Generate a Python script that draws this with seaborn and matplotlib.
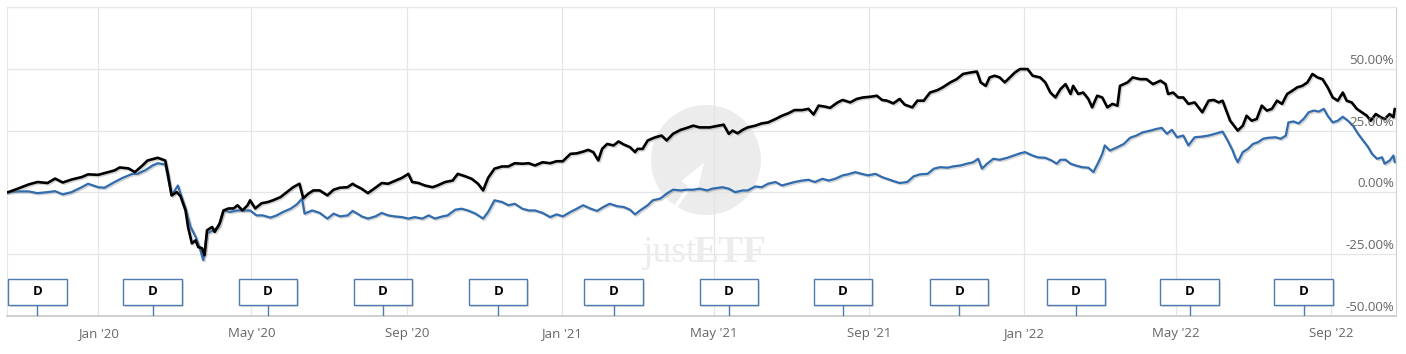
import pandas as pd
import numpy as np
import matplotlib
matplotlib.use("Agg")
import matplotlib.pyplot as plt
import matplotlib.dates as mdates
import matplotlib.patheffects as pe
from matplotlib.patches import Rectangle, Ellipse, Polygon
from matplotlib.transforms import blended_transform_factory
import seaborn as sns

# ------------------------------------------
# Data
# ------------------------------------------

start = pd.Timestamp("2019-10-21")
end = start + pd.Timedelta(days=1097)

# days since start, performance in %
black_day = [0, 1, 9, 17, 24, 32, 38, 44, 51, 59, 64, 72, 77, 85, 89, 96, 101, 107, 111, 119,
             125, 127, 130, 134, 137, 141, 143, 146, 149, 151, 154, 156, 158, 162, 164, 168, 171,
             175, 179, 182, 186, 190, 192, 196, 201, 206, 210, 216, 221, 226, 231, 234, 238, 242,
             247, 253, 258, 263, 269, 273, 275, 280, 285, 291, 296, 301, 306, 312, 317, 320, 325,
             330, 336, 340, 346, 352, 356, 362, 367, 372, 376, 380, 385, 391, 396, 401, 407, 412,
             417, 423, 429, 434, 439, 445, 450, 455, 459, 463, 467, 470, 474, 479, 483, 487, 492,
             496, 498, 502, 506, 512, 517, 521, 526, 532, 537, 542, 547, 555, 562, 566, 570, 573,
             577, 581, 585, 591, 596, 601, 607, 612, 617, 622, 628, 633, 637, 641, 646, 650, 656,
             660, 666, 671, 676, 682, 687, 691, 695, 700, 705, 709, 715, 719, 724, 729, 735, 739,
             745, 750, 755, 761, 766, 769, 773, 776, 780, 784, 788, 792, 796, 800, 806, 810, 816,
             820, 824, 828, 832, 836, 840, 842, 846, 850, 854, 857, 861, 865, 869, 873, 877, 879,
             885, 889, 895, 900, 905, 911, 915, 917, 921, 925, 929, 933, 938, 944, 949, 953, 957,
             960, 966, 972, 976, 979, 983, 987, 991, 995, 999, 1003, 1007, 1011, 1015, 1019, 1023,
             1027, 1031, 1035, 1039, 1043, 1047, 1051, 1055, 1058, 1062, 1066, 1070, 1074, 1077,
             1081, 1085, 1088, 1092, 1095, 1096]
black_pct = [0.0, 0.1, 1.6, 3.2, 4.2, 3.8, 5.6, 4.0, 5.2, 6.2, 7.3, 7.1, 7.8, 8.9, 10.1, 9.7, 8.2,
             10.9, 12.9, 14.0, 12.9, 7.7, -1.2, 0.1, -1.5, -7.3, -14.0, -20.6, -19.4, -22.1, -22.6,
             -25.4, -15.3, -14.0, -16.0, -12.5, -7.3, -6.5, -6.5, -5.2, -7.3, -5.2, -3.2, -6.5,
             -4.4, -3.9, -3.2, -1.9, 0.1, 2.1, 3.5, -2.4, -0.5, 0.8, 0.8, -1.2, 1.1, 1.9, 2.1, 3.5,
             2.8, 1.5, -0.3, 1.9, 3.8, 3.5, 4.6, 5.9, 7.5, 4.2, 3.8, 2.8, 2.1, 2.8, 4.2, 4.8, 7.5,
             6.5, 5.5, 3.5, 0.8, 5.9, 9.6, 10.5, 10.5, 11.8, 11.6, 11.8, 10.9, 12.2, 11.8, 12.6,
             12.6, 15.6, 15.8, 16.5, 17.2, 16.3, 12.9, 17.6, 19.6, 19.0, 20.6, 19.4, 18.3, 16.3,
             17.6, 17.6, 21.0, 22.3, 23.0, 21.0, 23.7, 25.3, 26.1, 27.0, 26.3, 26.3, 27.0, 27.4,
             23.7, 25.0, 23.9, 25.3, 26.3, 27.0, 27.9, 28.3, 29.7, 31.0, 32.0, 33.3, 33.3, 33.8,
             31.5, 35.1, 34.7, 34.2, 36.4, 37.4, 36.4, 37.8, 38.4, 38.7, 39.1, 37.4, 37.1, 36.0,
             37.8, 35.5, 34.4, 37.1, 37.1, 40.4, 41.4, 42.5, 44.5, 45.8, 47.9, 48.5, 48.9, 44.5,
             43.1, 46.5, 47.2, 46.5, 44.5, 46.5, 48.5, 49.9, 49.9, 47.2, 46.5, 44.5, 40.4, 38.4,
             41.8, 43.8, 39.8, 43.1, 39.8, 40.4, 37.8, 34.4, 39.1, 38.4, 34.4, 35.8, 35.1, 43.1,
             44.5, 46.5, 45.8, 45.8, 43.8, 45.2, 43.8, 39.8, 40.4, 38.4, 38.4, 35.8, 36.4, 32.4,
             37.1, 37.4, 36.4, 37.1, 29.0, 25.0, 27.0, 31.0, 29.0, 29.7, 35.1, 33.1, 33.8, 37.1,
             35.8, 39.8, 41.1, 42.5, 43.1, 44.5, 47.9, 46.5, 45.8, 42.5, 38.4, 37.1, 40.4, 37.1,
             36.4, 33.8, 32.4, 31.0, 29.0, 31.7, 30.4, 29.7, 31.7, 30.4, 33.8]

blue_day = [0, 1, 9, 17, 24, 32, 38, 44, 51, 59, 64, 72, 77, 85, 91, 99, 103, 109, 115, 119, 125,
            127, 130, 135, 137, 141, 145, 149, 152, 155, 158, 163, 167, 171, 176, 182, 186, 192,
            197, 202, 208, 213, 218, 224, 229, 233, 235, 241, 247, 253, 258, 263, 269, 273, 279,
            280, 285, 291, 296, 301, 306, 312, 317, 322, 328, 333, 338, 344, 348, 354, 359, 364,
            370, 376, 380, 385, 391, 396, 401, 407, 412, 417, 423, 429, 434, 439, 445, 450, 455,
            461, 466, 471, 476, 482, 487, 492, 496, 500, 506, 510, 516, 521, 526, 532, 537, 542,
            547, 553, 557, 565, 570, 575, 581, 585, 591, 596, 601, 607, 612, 617, 622, 628, 633,
            638, 644, 649, 654, 660, 664, 670, 675, 680, 686, 691, 695, 700, 705, 711, 716, 721,
            727, 732, 737, 743, 747, 753, 758, 763, 767, 770, 774, 779, 784, 790, 795, 800, 804,
            810, 814, 820, 825, 829, 832, 836, 840, 844, 849, 854, 858, 862, 865, 867, 871, 877,
            882, 887, 892, 897, 903, 908, 912, 916, 920, 924, 929, 933, 938, 944, 949, 954, 960,
            964, 968, 970, 972, 976, 980, 984, 988, 992, 996, 1002, 1006, 1010, 1012, 1016, 1020,
            1024, 1028, 1032, 1036, 1040, 1043, 1047, 1051, 1055, 1059, 1063, 1067, 1071, 1075,
            1078, 1082, 1086, 1088, 1092, 1095, 1096]
blue_pct = [0.0, 0.1, 0.4, 0.4, -0.3, 0.1, 0.5, -0.8, 0.1, 2.1, 3.5, 2.1, 1.9, 4.2, 5.8, 7.5, 7.5,
            8.9, 10.9, 11.8, 11.3, 6.2, -1.2, 2.8, -0.5, -6.5, -14.0, -18.0, -22.1, -27.4, -16.5,
            -15.3, -14.0, -7.3, -7.9, -7.3, -7.3, -7.3, -9.3, -9.3, -10.2, -9.3, -7.9, -6.6, -4.8,
            -2.5, -8.6, -7.3, -8.3, -10.6, -8.6, -9.7, -9.3, -7.5, -9.3, -9.7, -10.6, -9.7, -8.3,
            -9.3, -9.7, -10.0, -10.6, -10.0, -10.6, -9.3, -10.6, -9.7, -9.3, -7.0, -6.6, -7.3,
            -8.6, -10.6, -7.9, -3.2, -3.9, -5.2, -4.6, -6.6, -7.3, -7.3, -8.3, -10.0, -8.9, -9.7,
            -7.9, -6.6, -5.2, -6.6, -7.5, -5.9, -4.6, -5.6, -5.9, -7.0, -8.9, -7.3, -5.2, -3.2,
            -2.5, -0.5, 1.1, 0.8, 1.1, 1.1, 1.5, 0.8, 1.5, 2.1, 1.5, 0.1, 0.8, 0.8, 2.4, 2.1, 3.5,
            4.2, 2.8, 3.5, 4.2, 4.8, 5.1, 4.2, 5.5, 4.8, 5.5, 6.9, 7.3, 8.2, 7.5, 6.9, 7.5, 6.2,
            5.5, 4.6, 3.8, 4.2, 6.5, 7.3, 7.5, 9.6, 10.2, 10.0, 10.5, 10.9, 11.6, 12.2, 13.6, 9.6,
            11.6, 13.6, 13.2, 14.0, 14.9, 15.8, 16.3, 14.9, 14.2, 14.0, 12.9, 11.6, 13.2, 13.2,
            11.6, 10.9, 10.2, 10.0, 8.2, 12.2, 15.6, 19.0, 16.9, 18.3, 19.6, 22.1, 23.0, 24.3,
            25.0, 25.7, 26.1, 23.7, 25.3, 22.3, 23.0, 19.0, 22.3, 22.6, 23.0, 23.7, 24.6, 21.0,
            16.9, 14.2, 12.2, 16.3, 17.6, 19.6, 20.3, 21.7, 22.1, 22.3, 21.7, 23.0, 28.3, 28.7,
            27.9, 29.7, 32.4, 33.1, 32.7, 33.8, 31.0, 28.3, 29.0, 30.6, 29.0, 27.0, 23.7, 21.0,
            18.3, 15.6, 13.6, 14.2, 11.6, 12.9, 14.9, 12.2]

dividend_dates = ["2019-11-14", "2020-02-13", "2020-05-14", "2020-08-13", "2020-11-12",
                  "2021-02-11", "2021-05-13", "2021-08-11", "2021-11-11", "2022-02-11",
                  "2022-05-12", "2022-08-10"]

y_ticks = [-50, -25, 0, 25, 50]

black_df = pd.DataFrame({"date": start + pd.to_timedelta(black_day, unit="D"), "pct": black_pct})
blue_df = pd.DataFrame({"date": start + pd.to_timedelta(blue_day, unit="D"), "pct": blue_pct})

# ------------------------------------------
# Figure
# ------------------------------------------

sns.set_style("white")
plt.rcParams["font.family"] = ["Open Sans", "DejaVu Sans"]

W, H = 1406, 354
fig = plt.figure(figsize=(W / 100, H / 100), dpi=100)
ax = fig.add_axes([7 / W, 1 - 316 / H, (1396 - 7) / W, (316 - 7) / H])

grid_c = "#e6e6e6"
label_c = "#666666"
blue_c = "#2f6bad"

# watermark (inside the axes, below the lines)
ax.add_patch(Ellipse((706 / W, 1 - 160 / H), 110 / W, 110 / H,
                     transform=fig.transFigure, facecolor="#e4e4e4", edgecolor="none",
                     alpha=0.7, zorder=1, clip_on=False))
arrow = [(652, 236), (688, 186), (681, 181), (704, 163), (697, 192), (691, 188), (656, 238)]
ax.add_patch(Polygon([(x / W, 1 - y / H) for x, y in arrow], closed=True,
                     transform=fig.transFigure, facecolor="white", edgecolor="none",
                     zorder=1.1, clip_on=False))
ax.text(642 / W, 1 - 262 / H, "just", fontsize=27, family="Liberation Serif",
        color="#ececec", zorder=1, transform=fig.transFigure)
ax.text(693 / W, 1 - 262 / H, "ETF", fontsize=27, family="Liberation Serif",
        fontweight="bold", color="#ececec", zorder=1, transform=fig.transFigure)

shadow = [pe.SimpleLineShadow(offset=(1, -1), shadow_color="#888888", alpha=0.35),
          pe.Normal()]

sns.lineplot(data=black_df, x="date", y="pct", color="black", linewidth=1.9, ax=ax,
             zorder=4, path_effects=shadow)
sns.lineplot(data=blue_df, x="date", y="pct", color=blue_c, linewidth=1.6, ax=ax,
             zorder=3, path_effects=shadow)

ax.set_xlim(start, end)
ax.set_ylim(-50, 75)
ax.set_xlabel("")
ax.set_ylabel("")

# grid
ax.set_yticks(y_ticks + [75])
ax.set_yticklabels([])
ax.tick_params(axis="y", length=0)
ax.xaxis.set_major_locator(mdates.MonthLocator(bymonth=[1, 5, 9]))
ax.xaxis.set_major_formatter(mdates.DateFormatter("%b '%y"))
ax.tick_params(axis="x", length=0, pad=8, labelsize=9.5, labelcolor=label_c)
ax.grid(True, color=grid_c, linewidth=0.9, zorder=0)
ax.set_axisbelow(True)

for side in ["left", "top"]:
    ax.spines[side].set_color(grid_c)
ax.spines["right"].set_color("#d0d0d0")
ax.spines["bottom"].set_color("#c8c8c8")
ax.spines["bottom"].set_linewidth(1.2)

# y labels inside on the right
tr = blended_transform_factory(ax.transAxes, ax.transData)
for v in y_ticks:
    ax.annotate(f"{v:.2f}%", xy=(1.0, v), xycoords=tr, xytext=(-1.5, 1.5),
                textcoords="offset points", ha="right", va="bottom",
                fontsize=9.5, color=label_c, zorder=6)

# dividend flags
trf = blended_transform_factory(ax.transData, ax.transAxes)
half = pd.Timedelta(days=23)
for d in dividend_dates:
    d = pd.Timestamp(d)
    x0 = mdates.date2num(d - half)
    w = mdates.date2num(d + half) - x0
    ax.add_patch(Rectangle((x0 + 1.5, 0.036 - 0.008), w, 0.084, transform=trf,
                           facecolor="#d0d0d0", edgecolor="none", alpha=0.6, zorder=5))
    ax.add_patch(Rectangle((x0, 0.036), w, 0.084, transform=trf,
                           facecolor="white", edgecolor="#4d7ab0", linewidth=1.0, zorder=6))
    ax.plot([d, d], [0, 0.036], transform=trf, color="#4d7ab0", linewidth=1.0, zorder=6)
    ax.text(d, 0.078, "D", transform=trf, ha="center", va="center",
            fontsize=9.5, fontweight="bold", color="black", zorder=7,
            family=["Open Sans", "DejaVu Sans"])

fig.savefig("out.png", dpi=100)
